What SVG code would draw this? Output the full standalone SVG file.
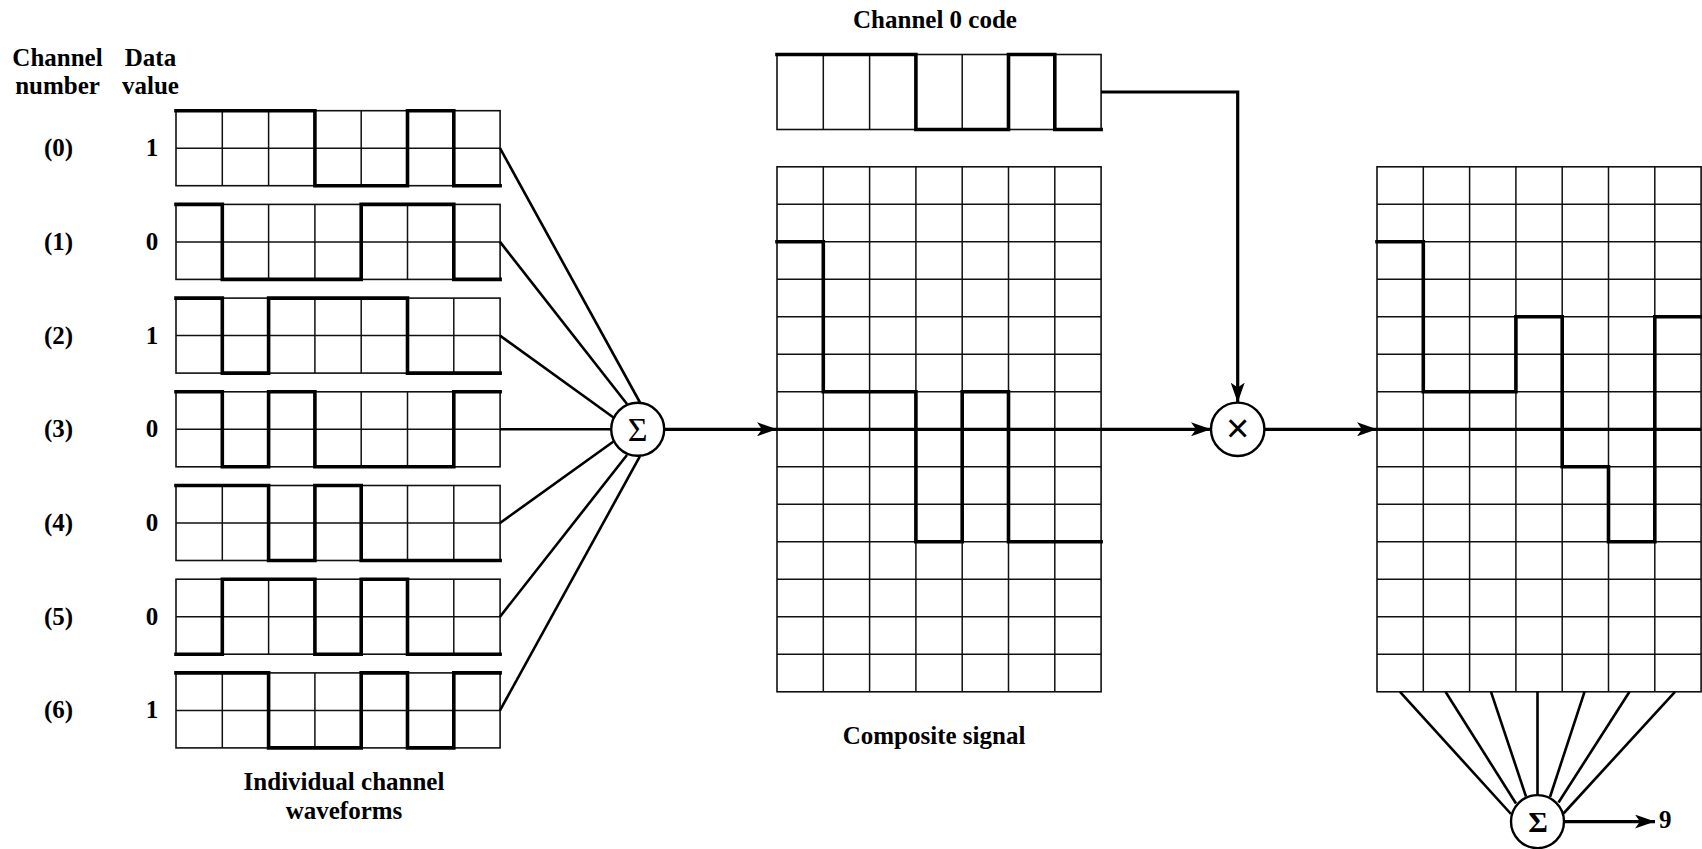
<svg xmlns="http://www.w3.org/2000/svg" xmlns:xlink="http://www.w3.org/1999/xlink" width="1702" height="849" viewBox="0 0 1702 849">
<style>
  .lbl { font-family: "Liberation Serif", "Times New Roman", serif; font-weight: bold; font-size: 25px; fill: #000; }
  .mid { text-anchor: middle; }
  .grid { fill: none; stroke: #111; stroke-width: 1.5; }
  .box { fill: #fff; stroke: #111; stroke-width: 1.6; }
  .wave { fill: none; stroke: #000; stroke-width: 3.6; stroke-linejoin: miter; stroke-linecap: square; }
  .conn { fill: none; stroke: #000; stroke-width: 2.6; }
  .axis { fill: none; stroke: #000; stroke-width: 3.2; }
  .node { fill: #fff; stroke: #000; stroke-width: 2.4; }
  .sym { font-family: "Liberation Serif", "Times New Roman", serif; font-size: 34px; text-anchor: middle; fill: #000; }
</style>
<defs>
  <marker id="arr" viewBox="0 0 20 14" refX="20" refY="7" markerWidth="20" markerHeight="14" markerUnits="userSpaceOnUse" orient="auto">
    <path d="M0,0 L20,7 L0,14 L5,7 Z" fill="#000"/>
  </marker>
  <g id="grid2">
    <rect class="box" x="0" y="0" width="324.1" height="75"/>
    <path class="grid" d="M46.3,0V75M92.6,0V75M138.9,0V75M185.2,0V75M231.5,0V75M277.8,0V75M0,37.5H324.1"/>
  </g>
  <g id="grid14">
    <rect class="box" x="0" y="0" width="324.1" height="525"/>
    <path class="grid" d="M46.3,0V525M92.6,0V525M138.9,0V525M185.2,0V525M231.5,0V525M277.8,0V525
      M0,37.5H324.1M0,75H324.1M0,112.5H324.1M0,150H324.1M0,187.5H324.1M0,225H324.1M0,262.5H324.1
      M0,300H324.1M0,337.5H324.1M0,375H324.1M0,412.5H324.1M0,450H324.1M0,487.5H324.1"/>
  </g>
</defs>
<rect x="0" y="0" width="1702" height="849" fill="#fff"/>

<g id="headers">
  <text class="lbl mid" x="57.5" y="66">Channel</text>
  <text class="lbl mid" x="57.5" y="94">number</text>
  <text class="lbl mid" x="150.5" y="66">Data</text>
  <text class="lbl mid" x="150.5" y="94">value</text>
</g>

<g id="ch0">
  <text class="lbl mid" x="58.5" y="156.2">(0)</text>
  <text class="lbl mid" x="152" y="156.2">1</text>
  <g transform="translate(176,110.7)">
    <use xlink:href="#grid2"/>
    <path class="wave" d="M0,0 H138.9 V75 H231.5 V0 H277.8 V75 H324.1"/>
  </g>
</g>
<g id="ch1">
  <text class="lbl mid" x="58.5" y="249.9">(1)</text>
  <text class="lbl mid" x="152" y="249.9">0</text>
  <g transform="translate(176,204.4)">
    <use xlink:href="#grid2"/>
    <path class="wave" d="M0,0 H46.3 V75 H185.2 V0 H277.8 V75 H324.1"/>
  </g>
</g>
<g id="ch2">
  <text class="lbl mid" x="58.5" y="343.6">(2)</text>
  <text class="lbl mid" x="152" y="343.6">1</text>
  <g transform="translate(176,298.1)">
    <use xlink:href="#grid2"/>
    <path class="wave" d="M0,0 H46.3 V75 H92.6 V0 H231.5 V75 H324.1"/>
  </g>
</g>
<g id="ch3">
  <text class="lbl mid" x="58.5" y="437.3">(3)</text>
  <text class="lbl mid" x="152" y="437.3">0</text>
  <g transform="translate(176,391.8)">
    <use xlink:href="#grid2"/>
    <path class="wave" d="M0,0 H46.3 V75 H92.6 V0 H138.9 V75 H277.8 V0 H324.1"/>
  </g>
</g>
<g id="ch4">
  <text class="lbl mid" x="58.5" y="531">(4)</text>
  <text class="lbl mid" x="152" y="531">0</text>
  <g transform="translate(176,485.5)">
    <use xlink:href="#grid2"/>
    <path class="wave" d="M0,0 H92.6 V75 H138.9 V0 H185.2 V75 H324.1"/>
  </g>
</g>
<g id="ch5">
  <text class="lbl mid" x="58.5" y="624.7">(5)</text>
  <text class="lbl mid" x="152" y="624.7">0</text>
  <g transform="translate(176,579.2)">
    <use xlink:href="#grid2"/>
    <path class="wave" d="M0,75 H46.3 V0 H138.9 V75 H185.2 V0 H231.5 V75 H324.1"/>
  </g>
</g>
<g id="ch6">
  <text class="lbl mid" x="58.5" y="718.4">(6)</text>
  <text class="lbl mid" x="152" y="718.4">1</text>
  <g transform="translate(176,672.9)">
    <use xlink:href="#grid2"/>
    <path class="wave" d="M0,0 H92.6 V75 H185.2 V0 H231.5 V75 H277.8 V0 H324.1"/>
  </g>
</g>
<g id="caption-individual">
  <text class="lbl mid" x="344" y="790">Individual channel</text>
  <text class="lbl mid" x="344" y="819">waveforms</text>
</g>

<g id="sum1">
  <circle class="node" cx="637.7" cy="429.3" r="26.5"/>
  <text class="sym" x="637.7" y="440.5">Σ</text>
</g>

<g id="code0">
  <text class="lbl mid" x="935" y="28">Channel 0 code</text>
  <g transform="translate(777,54.5)">
    <rect class="box" x="0" y="0" width="324.1" height="75"/>
    <path class="grid" d="M46.3,0V75M92.6,0V75M138.9,0V75M185.2,0V75M231.5,0V75M277.8,0V75"/>
    <path class="wave" d="M0,0 H138.9 V75 H231.5 V0 H277.8 V75 H324.1"/>
  </g>
</g>

<g id="composite">
  <g transform="translate(777,166.8)">
    <use xlink:href="#grid14"/>
    <path class="axis" d="M0,262.5 H324.1"/>
    <path class="wave" d="M0,75 H46.3 V225 H138.9 V375 H185.2 V225 H231.5 V375 H324.1"/>
  </g>
  <text class="lbl mid" x="934" y="744">Composite signal</text>
</g>

<g id="mult">
  <circle class="node" cx="1237.7" cy="429.3" r="26.7"/>
  <text class="sym" x="1237.7" y="441.5" style="font-family:'Liberation Sans', Arial, sans-serif; font-size:40px">×</text>
</g>

<g id="decoded">
  <g transform="translate(1377,166.8)">
    <use xlink:href="#grid14"/>
    <path class="axis" d="M0,262.5 H324.1"/>
    <path class="wave" d="M0,75 H46.3 V225 H138.9 V150 H185.2 V300 H231.5 V375 H277.8 V150 H324.1"/>
  </g>
</g>

<g id="sum2">
  <circle class="node" cx="1537.5" cy="821.6" r="26.5"/>
  <text class="sym" x="1538" y="832" style="font-weight:bold; font-size:30px">Σ</text>
</g>

<g id="result">
  <text class="lbl" x="1659" y="828">9</text>
</g>

<g id="connectors">
  <path class="conn" d="M500,148.2 L640,402.5"/>
  <path class="conn" d="M500,241.9 L627,404"/>
  <path class="conn" d="M500,335.6 L613.5,417.5"/>
  <path class="conn" d="M500,429.3 L611.2,429.3"/>
  <path class="conn" d="M500,523 L613.5,441.5"/>
  <path class="conn" d="M500,616.7 L627,455"/>
  <path class="conn" d="M500,710.4 L640,456.2"/>
  <path class="axis" d="M664.2,429.3 H777" marker-end="url(#arr)"/>
  <path class="axis" d="M1101,429.3 H1211" marker-end="url(#arr)"/>
  <path class="axis" d="M1101,92 H1237.7 V402.6" marker-end="url(#arr)"/>
  <path class="axis" d="M1264.4,429.3 H1377" marker-end="url(#arr)"/>
  <path class="conn" d="M1400,691.8 L1511,814"/>
  <path class="conn" d="M1445.5,691.8 L1516,803.5"/>
  <path class="conn" d="M1491,691.8 L1526,796.5"/>
  <path class="conn" d="M1537.5,691.8 L1537.5,795.1"/>
  <path class="conn" d="M1584.5,691.8 L1550,797"/>
  <path class="conn" d="M1629.5,691.8 L1558.5,802.5"/>
  <path class="conn" d="M1675,691.8 L1563.5,813.5"/>
  <path class="axis" d="M1564,821.6 H1655" marker-end="url(#arr)"/>
</g>
</svg>
